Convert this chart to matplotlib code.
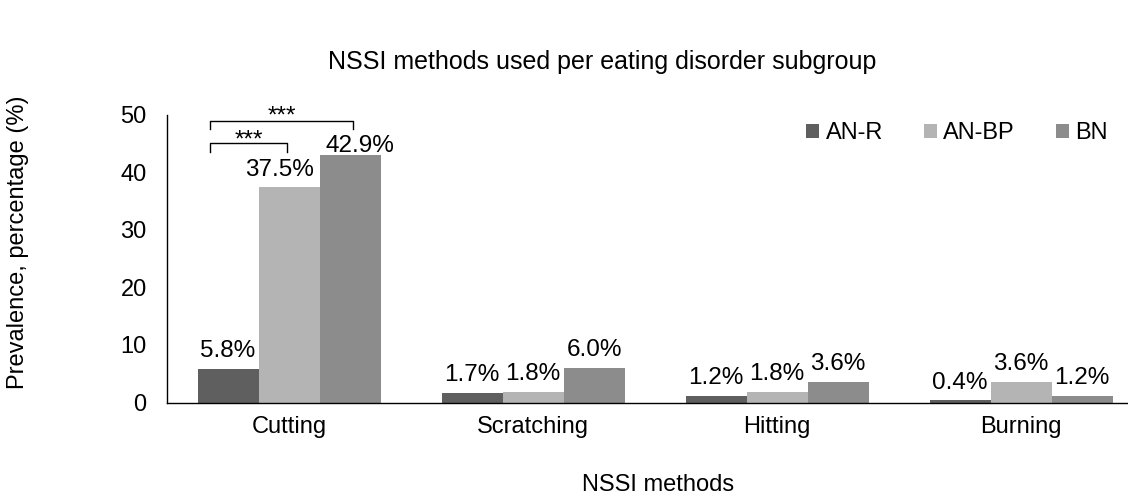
import matplotlib
matplotlib.use("Agg")
import matplotlib.pyplot as plt
import numpy as np

plt.rcParams['font.family'] = ['Liberation Sans', 'DejaVu Sans']

categories = ["Cutting", "Scratching", "Hitting", "Burning"]
series_names = ["AN-R", "AN-BP", "BN"]
an_r = [5.8, 1.7, 1.2, 0.4]
an_bp = [37.5, 1.8, 1.8, 3.6]
bn = [42.9, 6.0, 3.6, 1.2]
colors = ["#5f5f5f", "#b4b4b4", "#8c8c8c"]

# manual label nudges (points), as in the source chart: (category, series) -> (dx, dy)
label_nudge = {(0, 1): (-6.5, -0.7), (0, 2): (7.2, -5.8)}

W, H = 1128, 500
fig = plt.figure(figsize=(W / 100, H / 100), dpi=100)
left, right, bottom, top = 167, 1143, 402.5, 114.5
ax = fig.add_axes([left / W, 1 - bottom / H, (right - left) / W, (bottom - top) / H])

x = np.arange(len(categories))
w = 0.25
for i, (vals, name, c) in enumerate(zip([an_r, an_bp, bn], series_names, colors)):
    pos = x + (i - 1) * w
    ax.bar(pos, vals, width=w, color=c, label=name)
    for j, (p, v) in enumerate(zip(pos, vals)):
        dx, dy = label_nudge.get((j, i), (0, 0))
        ax.annotate(f"{v:.1f}%", (p, v), xytext=(dx, 8.4 + dy), textcoords='offset points',
                    ha='center', va='baseline', fontsize=17.5)

ax.set_xlim(-0.5, len(categories) - 0.5)
ax.set_ylim(0, 50)
ax.set_yticks([0, 10, 20, 30, 40, 50])
ax.set_xticks(x)
ax.set_xticklabels(categories)
ax.tick_params(axis='both', length=0, labelsize=17)
ax.tick_params(axis='x', pad=10)
ax.tick_params(axis='y', pad=14.6)
for s in ['top', 'right']:
    ax.spines[s].set_visible(False)
for s in ['left', 'bottom']:
    ax.spines[s].set_color('black')
    ax.spines[s].set_linewidth(1.0)

# significance brackets
def bracket(x0, x1, y, y_low, ytext, label):
    ax.plot([x0, x0, x1, x1], [y_low, y, y, y_low], color='black', lw=1.0, clip_on=False)
    ax.text((x0 + x1) / 2, ytext, label, ha='center', va='baseline', fontsize=17.5)

bracket(-0.324, 0.262, 48.87, 47.5, 48.6, "***")
bracket(-0.324, -0.008, 45.0, 43.5, 44.4, "***")

fig.text(602 / W, 1 - 62 / H, "NSSI methods used per eating disorder subgroup",
         ha='center', va='center', fontsize=18)
fig.text(658 / W, 1 - 485 / H, "NSSI methods", ha='center', va='center', fontsize=17)
fig.text(18 / W, 1 - 242 / H, "Prevalence, percentage (%)", ha='center', va='center',
         rotation=90, fontsize=17)

ax.legend(loc='upper right', bbox_to_anchor=(1108 / W, 1 - 122 / H),
          bbox_transform=fig.transFigure, ncol=3, frameon=False,
          fontsize=17, handlelength=0.55, handleheight=0.55, handletextpad=0.26,
          columnspacing=1.75, borderpad=0, borderaxespad=0)

fig.savefig("out.png", dpi=100)
